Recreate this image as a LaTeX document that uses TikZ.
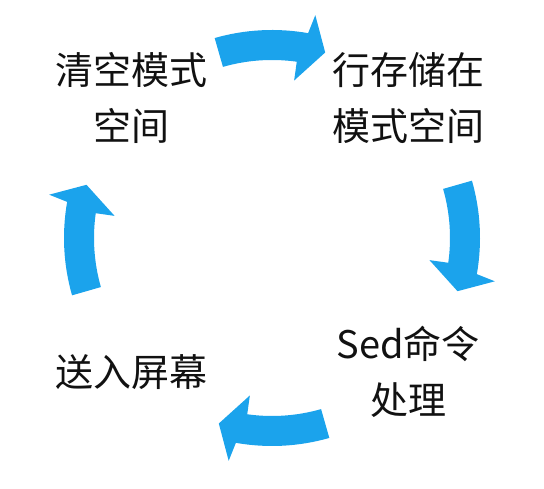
\documentclass[tikz,border=0pt]{standalone}
\usepackage{fontspec}
\newfontfamily\cjk{Noto Sans CJK SC}
\usepackage{xcolor}
\definecolor{cycblue}{HTML}{1BA3EC}
\definecolor{cyctext}{HTML}{111111}
\usetikzlibrary{calc}

\begin{document}
\begin{tikzpicture}[x=1pt,y=1pt,
  lbl/.style={align=center,inner sep=0pt,text=cyctext,
    font={\cjk\fontsize{38pt}{56pt}\selectfont}}]
\useasboundingbox (0,0) rectangle (544,489);
\coordinate (c) at (272,251);
% curved arrows of the cycle
\foreach \a in {90,0,-90,180}{
  \fill[cycblue] ($(c)+(\a+16:208pt)$) arc[start angle=\a+16,end angle=\a-10,radius=208pt]
    -- ($(c)+(\a-11:227pt)$) -- ($(c)+(\a-16:193pt)$) -- ($(c)+(\a-8:159pt)$)
    -- ($(c)+(\a-8:178pt)$) arc[start angle=\a-8,end angle=\a+16,radius=178pt] -- cycle;
}
\node[lbl] (clear) at (132,391) {清空模式\\空间};
\node[lbl] (store) at (408,391) {行存储在\\模式空间};
\node[lbl] (cmd) at (408,117) {Sed命令\\处理};
\node[lbl] (print) at (132,117) {送入屏幕};
\end{tikzpicture}
\end{document}
